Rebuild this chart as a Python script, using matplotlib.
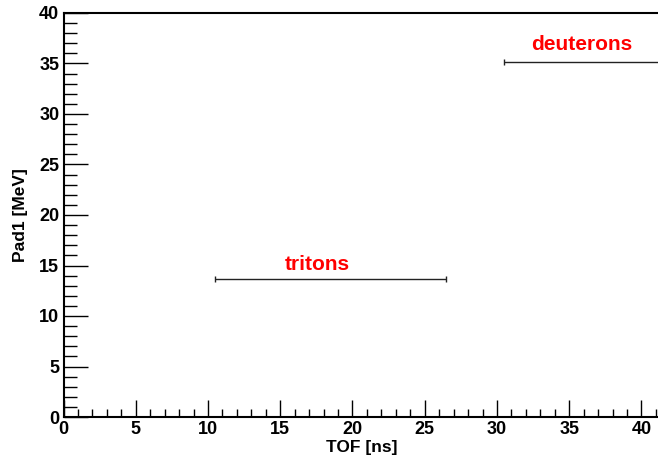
import matplotlib
matplotlib.use("Agg")
import matplotlib.pyplot as plt
from matplotlib.ticker import MultipleLocator

plt.rcParams["font.family"] = ["Liberation Sans", "DejaVu Sans"]
plt.rcParams["font.weight"] = "bold"

# Band markers: centre TOF, half width, energy
band_names = ["tritons", "deuterons"]
band_tof = [18.5, 38.5]
band_halfwidth = [8.0, 8.0]
band_energy = [13.65, 35.1]
label_x = [17.6, 35.9]
label_y = [15.1, 36.9]

x_range = (0, 41.25)
y_range = (0, 40)

fig = plt.figure(figsize=(6.58, 4.55), dpi=100)
ax = fig.add_axes([63.5 / 658, 38 / 455, 596 / 658, 404 / 455])

ax.errorbar(band_tof, band_energy, xerr=band_halfwidth, fmt="none",
            ecolor="#222222", elinewidth=1.0, capsize=2.5, capthick=1.0)
for name, tx, ty in zip(band_names, label_x, label_y):
    ax.text(tx, ty, name, color="red", fontsize=15, fontweight="bold",
            ha="center", va="center")

ax.set_xlim(*x_range)
ax.set_ylim(*y_range)
ax.xaxis.set_major_locator(MultipleLocator(5))
ax.xaxis.set_minor_locator(MultipleLocator(1))
ax.yaxis.set_major_locator(MultipleLocator(5))
ax.yaxis.set_minor_locator(MultipleLocator(1))
ax.tick_params(axis="x", which="major", direction="in", length=12, width=1, pad=3, labelsize=13)
ax.tick_params(axis="x", which="minor", direction="in", length=6, width=1)
ax.tick_params(axis="y", which="major", direction="in", length=17, width=1, pad=3, labelsize=13)
ax.tick_params(axis="y", which="minor", direction="in", length=9, width=1)
for lbl in ax.get_xticklabels() + ax.get_yticklabels():
    lbl.set_fontweight("bold")
for s in ax.spines.values():
    s.set_linewidth(1.5)

ax.set_xlabel("TOF [ns]", fontsize=12.5, fontweight="bold", labelpad=1)
ax.set_ylabel("Pad1 [MeV]", fontsize=12.5, fontweight="bold", labelpad=8)

fig.savefig("out.png", dpi=100)
